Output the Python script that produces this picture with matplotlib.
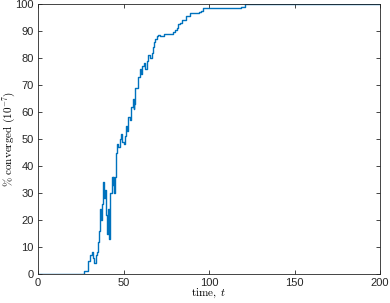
import matplotlib
matplotlib.use('Agg')
import matplotlib.pyplot as plt

# time points (step changes) and % converged
t = [0, 26.8, 29, 29.5, 30.5, 31.5, 32.2, 33, 33.7, 34.5, 35, 35.6, 36, 36.6,
     37.2, 37.8, 38.3, 38.8, 39.4, 39.9, 40.4, 40.9, 41.3, 41.8, 42.3, 43,
     43.6, 44.1, 44.6, 45.1, 45.6, 46.3, 47, 47.7, 48.5, 49.3, 50, 50.8, 51.4,
     52, 52.7, 53.6, 54.1, 54.6, 55.4, 56.0, 56.4, 57, 57.7, 58.4, 59.4, 60.2,
     61, 61.8, 62.5, 63.5, 64.5, 65.5, 66.4, 67.2, 67.9, 68.7, 69.5, 70.4,
     71.5, 73.5, 76, 79, 80, 81, 81.8, 83, 84, 85.5, 86.7, 88, 88.7, 91, 94.3,
     95.5, 96.5, 118.8, 120.8, 200]
conv = [0, 1, 4, 5, 7, 8, 6, 4, 7, 8, 12, 16, 24, 20,
        26, 30, 34, 28, 31, 22, 15, 24, 18, 13, 30, 36,
        33, 36, 30, 36, 45, 48, 47, 50, 52, 49, 48, 51, 55,
        53, 58, 57, 60, 62, 65, 61, 63, 69, 69, 73, 76, 74,
        77, 78, 76, 79, 81, 80, 82, 84, 86, 87, 88, 88.5,
        88, 89, 89, 89.5, 90.5, 91, 92.5, 93, 94, 94, 95.5, 95.5, 96.5, 96.5, 97,
        97.5, 98.5, 99, 100, 100]

plt.rcParams['mathtext.fontset'] = 'cm'
plt.rcParams['font.family'] = ['Liberation Sans', 'DejaVu Sans']

fig = plt.figure(figsize=(3.9, 3.03), dpi=100)
ax = fig.add_axes([38/390, 29/303, 342/390, 270/303])
ax.plot(t, conv, drawstyle='steps-post', color='#0072BD', linewidth=1.0)

ax.set_xlim(0, 200)
ax.set_ylim(0, 100)
ax.set_xticks([0, 50, 100, 150, 200])
ax.set_yticks(range(0, 101, 10))
ax.tick_params(direction='in', length=3, width=0.6, top=True, right=True,
               labelsize=8, colors='#262626', pad=3)
for s in ax.spines.values():
    s.set_linewidth(0.6)
    s.set_color('#262626')

ax.set_xlabel(r'$\mathrm{time,}\ t$', fontsize=8)
ax.set_ylabel(r'$\mathrm{\%\ converged\ (10^{-7})}$', fontsize=8)
ax.yaxis.set_label_coords(-0.084, 0.5)
ax.xaxis.set_label_coords(0.5, -0.072)
ax.xaxis.label.set_va('center')
ax.yaxis.label.set_va('center')

plt.savefig('out.png', dpi=100)
